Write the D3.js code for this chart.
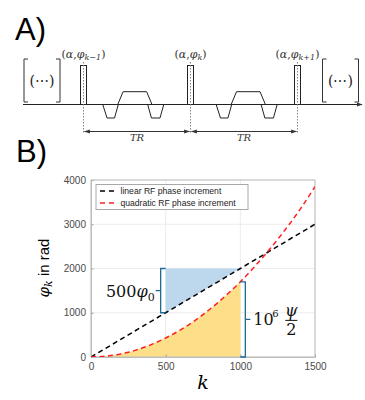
<!DOCTYPE html>
<html>
<head>
<meta charset="utf-8">
<script src="https://cdn.jsdelivr.net/npm/d3@7"></script>
<style>
  body { margin: 0; background: #fff; }
  svg { display: block; }
  .tick text { font-family: "Liberation Sans", Arial, sans-serif; font-size: 10px; fill: #4a4a4a; }
  .math { font-family: "DejaVu Serif", "Liberation Serif", serif; }
</style>
</head>
<body>
<div class="chart"></div>
<script>
// ---- data ----
const kLinear = [0, 250, 500, 750, 1000, 1250, 1500]
const phiLinear = [0, 500, 1000, 1500, 2000, 2500, 3000]

const kQuad = [0, 100, 200, 300, 400, 500, 600, 700, 800, 900, 1000, 1100, 1200, 1300, 1400, 1500]
const phiQuad = [0, 18, 70, 155, 275, 430, 615, 835, 1090, 1380, 1700, 2060, 2450, 2875, 3335, 3850]

const blueK = [500, 500, 1000]
const bluePhi = [1000, 2000, 2000]

const xTicks = [0, 500, 1000, 1500]
const yTicks = [0, 1000, 2000, 3000, 4000]

const legendLabels = ["linear RF phase increment", "quadratic RF phase increment"]
const legendColors = ["#000000", "#ff1f1f"]

// sequence diagram (panel A), in units of TR
const pulseTimes = [0, 1, 2]
const pulseSubs = ["k\u22121", "k", "k+1"]
const gradStart = [0.18, 0.24]

const svg = d3.select(".chart")
    .append("svg")
    .attr("width", 365)
    .attr("height", 400)

// ================= panel A =================
svg.append("text")
    .attr("x", 15).attr("y", 40)
    .style("font-family", "Liberation Sans, Arial, sans-serif")
    .style("font-size", "31px")
    .text("A)")

const t = d3.scaleLinear([0, 2], [83.5, 297.5])
const base = 104.5

const defs = svg.append("defs")
defs.append("marker")
    .attr("id", "arr")
    .attr("viewBox", "0 0 10 10")
    .attr("refX", 9).attr("refY", 5)
    .attr("markerWidth", 6).attr("markerHeight", 6)
    .attr("orient", "auto-start-reverse")
    .append("path")
    .attr("d", "M0,1.5 L10,5 L0,8.5 z")
    .attr("fill", "#333")

// baseline
svg.append("line")
    .attr("x1", 23).attr("x2", 362)
    .attr("y1", base).attr("y2", base)
    .attr("stroke", "#222").attr("stroke-width", 1)
    .attr("marker-end", "url(#arr)")

// bracket boxes with (...)
const brackets = [42, 340.5]
brackets.forEach(cx => {
    const g = svg.append("g").attr("fill", "none").attr("stroke", "#333").attr("stroke-width", 1)
    g.append("path").attr("d", `M${cx - 14},59 H${cx - 18} V102 H${cx - 14}`)
    g.append("path").attr("d", `M${cx + 14},59 H${cx + 18} V102 H${cx + 14}`)
    svg.append("text")
        .attr("class", "math")
        .attr("x", cx).attr("y", 86)
        .attr("text-anchor", "middle")
        .style("font-size", "14px")
        .style("fill", "#222")
        .text("(\u22EF)")
})

// gradients
gradStart.forEach((s, i) => {
    const g = svg.append("g").attr("fill", "none").attr("stroke", "#222").attr("stroke-width", 1)
    const tt = d => t(i + s + d)
    g.append("path").attr("d",
        `M${tt(0)},${base} L${tt(0.04)},${base + 13.5} L${tt(0.11)},${base + 13.5} L${tt(0.145)},${base}`)
    g.append("path").attr("d",
        `M${tt(0.14)},${base} L${tt(0.19)},${base - 12.8} L${tt(0.41)},${base - 12.8} L${tt(0.46)},${base}`)
    g.append("path").attr("d",
        `M${tt(0.42)},${base} L${tt(0.455)},${base + 13.5} L${tt(0.535)},${base + 13.5} L${tt(0.57)},${base}`)
})

// RF pulses
pulseTimes.forEach((p, i) => {
    const cx = t(p)
    svg.append("rect")
        .attr("x", cx - 3).attr("y", 65.5)
        .attr("width", 6).attr("height", base - 65.5)
        .attr("fill", "#fff").attr("stroke", "#222").attr("stroke-width", 1)
    svg.append("line")
        .attr("x1", cx).attr("x2", cx)
        .attr("y1", 62).attr("y2", 133)
        .attr("stroke", "#777").attr("stroke-width", 0.9)
        .attr("stroke-dasharray", "1.5,1.5")
    const lab = svg.append("text")
        .attr("class", "math")
        .attr("x", cx).attr("y", 57.5)
        .attr("text-anchor", "middle")
        .style("font-size", "11px")
        .style("fill", "#333")
    lab.append("tspan").text("(")
    lab.append("tspan").style("font-style", "italic").text("\u03B1")
    lab.append("tspan").text(",")
    lab.append("tspan").style("font-style", "italic").text("\u03C6")
    lab.append("tspan").attr("dy", 2.5).style("font-size", "8px").style("font-style", "italic").text(pulseSubs[i])
    lab.append("tspan").attr("dy", -2.5).text(")")
})

// TR arrows
d3.pairs(pulseTimes).forEach(([a, b]) => {
    svg.append("line")
        .attr("x1", t(a) + 1).attr("x2", t(b) - 1)
        .attr("y1", 131.5).attr("y2", 131.5)
        .attr("stroke", "#333").attr("stroke-width", 1)
        .attr("marker-start", "url(#arr)")
        .attr("marker-end", "url(#arr)")
    svg.append("text")
        .attr("class", "math")
        .attr("x", (t(a) + t(b)) / 2).attr("y", 141)
        .attr("text-anchor", "middle")
        .style("font-size", "10px")
        .style("font-style", "italic")
        .style("fill", "#333")
        .text("TR")
})

// ================= panel B =================
svg.append("text")
    .attr("x", 16).attr("y", 162)
    .style("font-family", "Liberation Sans, Arial, sans-serif")
    .style("font-size", "31px")
    .text("B)")

const x = d3.scaleLinear([0, 1500], [91, 315])
const y = d3.scaleLinear([0, 4000], [357, 180])

// grid
svg.append("g")
    .selectAll("line.gx")
    .data(xTicks)
    .join("line")
    .attr("x1", d => x(d)).attr("x2", d => x(d))
    .attr("y1", y(4000)).attr("y2", y(0))
    .attr("stroke", "#ececec").attr("stroke-width", 1)
svg.append("g")
    .selectAll("line.gy")
    .data(yTicks)
    .join("line")
    .attr("x1", x(0)).attr("x2", x(1500))
    .attr("y1", d => y(d)).attr("y2", d => y(d))
    .attr("stroke", "#ececec").attr("stroke-width", 1)

// filled regions
const quadPts = kQuad.map((k, i) => [k, phiQuad[i]])
svg.append("path")
    .datum(quadPts.filter(d => d[0] <= 1000))
    .attr("d", d3.area().x(d => x(d[0])).y0(y(0)).y1(d => y(d[1])).curve(d3.curveMonotoneX))
    .attr("fill", "#fddf8a")

svg.append("path")
    .datum(blueK.map((k, i) => [k, bluePhi[i]]))
    .attr("d", d3.line().x(d => x(d[0])).y(d => y(d[1])).curve(d3.curveLinearClosed))
    .attr("fill", "#bdd7ec")

// axes
svg.append("g")
    .attr("transform", `translate(0,${y(0)})`)
    .call(d3.axisBottom(x).tickValues(xTicks).tickSize(-2.5).tickPadding(6).tickFormat(d3.format("d")))
svg.append("g")
    .attr("transform", `translate(${x(0)},0)`)
    .call(d3.axisLeft(y).tickValues(yTicks).tickSize(-2.5).tickPadding(5).tickFormat(d3.format("d")))
svg.selectAll(".domain").attr("stroke", "#bdbdbd")
svg.selectAll(".tick line").attr("stroke", "#9a9a9a")

// box
svg.append("rect")
    .attr("x", x(0)).attr("y", y(4000))
    .attr("width", x(1500) - x(0)).attr("height", y(0) - y(4000))
    .attr("fill", "none").attr("stroke", "#bdbdbd").attr("stroke-width", 1)

// curves
const clip = defs.append("clipPath").attr("id", "plot")
clip.append("rect")
    .attr("x", x(0)).attr("y", y(4000))
    .attr("width", x(1500) - x(0)).attr("height", y(0) - y(4000))

const line = d3.line().x(d => x(d[0])).y(d => y(d[1]))
svg.append("path")
    .datum(kLinear.map((k, i) => [k, phiLinear[i]]))
    .attr("d", line)
    .attr("clip-path", "url(#plot)")
    .attr("fill", "none").attr("stroke", legendColors[0])
    .attr("stroke-width", 1.5).attr("stroke-dasharray", "5,3.5")
svg.append("path")
    .datum(quadPts)
    .attr("d", line.curve(d3.curveMonotoneX))
    .attr("clip-path", "url(#plot)")
    .attr("fill", "none").attr("stroke", legendColors[1])
    .attr("stroke-width", 1.5).attr("stroke-dasharray", "5,3.5")

// brackets
const bc = "#1f6a93"
const bx = x(500) - 5
svg.append("path")
    .attr("d", `M${bx + 5},${y(2000)} H${bx} V${y(1000)} H${bx + 5} M${bx},${(y(1000) + y(2000)) / 2} H${bx - 5}`)
    .attr("fill", "none").attr("stroke", bc).attr("stroke-width", 1.3)
const lab1 = svg.append("text")
    .attr("class", "math")
    .attr("x", bx - 6).attr("y", (y(1000) + y(2000)) / 2 + 6)
    .attr("text-anchor", "end")
    .style("font-size", "16px")
    .style("fill", "#111")
lab1.append("tspan").text("500")
lab1.append("tspan").style("font-style", "italic").text("\u03C6")
lab1.append("tspan").attr("dy", 4).style("font-size", "11px").text("0")

const yTop = phiQuad[kQuad.indexOf(1000)]
const rx = x(1000) + 5
svg.append("path")
    .attr("d", `M${rx - 5},${y(yTop)} H${rx} V${y(0)} H${rx - 5} M${rx},${(y(0) + y(yTop)) / 2} H${rx + 5}`)
    .attr("fill", "none").attr("stroke", bc).attr("stroke-width", 1.3)
const my = (y(0) + y(yTop)) / 2
svg.append("text")
    .attr("class", "math")
    .attr("x", rx + 8).attr("y", my + 6)
    .style("font-size", "16px")
    .style("fill", "#111")
    .text("10")
svg.append("text")
    .attr("class", "math")
    .attr("x", rx + 27).attr("y", my - 2)
    .style("font-size", "10px")
    .style("fill", "#111")
    .text("6")
svg.append("text")
    .attr("class", "math")
    .attr("x", rx + 46).attr("y", my - 3)
    .attr("text-anchor", "middle")
    .style("font-size", "16px")
    .style("font-style", "italic")
    .style("fill", "#111")
    .text("\u03C8")
svg.append("line")
    .attr("x1", rx + 40).attr("x2", rx + 52)
    .attr("y1", my + 1).attr("y2", my + 1)
    .attr("stroke", "#111").attr("stroke-width", 1)
svg.append("text")
    .attr("class", "math")
    .attr("x", rx + 46).attr("y", my + 16)
    .attr("text-anchor", "middle")
    .style("font-size", "16px")
    .style("fill", "#111")
    .text("2")

// legend
const lg = svg.append("g").attr("transform", "translate(96,184.5)")
lg.append("rect")
    .attr("width", 152).attr("height", 25)
    .attr("fill", "#fff").attr("stroke", "#a8a8a8").attr("stroke-width", 1)
legendLabels.forEach((l, i) => {
    lg.append("line")
        .attr("x1", 4).attr("x2", 20)
        .attr("y1", 6.5 + i * 12).attr("y2", 6.5 + i * 12)
        .attr("stroke", legendColors[i]).attr("stroke-width", 1.5)
        .attr("stroke-dasharray", "5,4")
    lg.append("text")
        .attr("x", 24.5).attr("y", 9.5 + i * 12)
        .style("font-family", "Liberation Sans, Arial, sans-serif")
        .style("font-size", "8.6px")
        .style("fill", "#222")
        .text(l)
})

// axis labels
svg.append("text")
    .attr("class", "math")
    .attr("x", x(750)).attr("y", 389)
    .attr("text-anchor", "middle")
    .style("font-size", "19px")
    .style("font-style", "italic")
    .text("k")

const yl = svg.append("text")
    .attr("transform", "translate(49,268) rotate(-90)")
    .attr("text-anchor", "middle")
    .style("font-size", "15px")
yl.append("tspan").attr("class", "math").style("font-style", "italic").text("\u03C6")
yl.append("tspan").attr("class", "math").attr("dy", 3).style("font-style", "italic").style("font-size", "11px").text("k")
yl.append("tspan").attr("dy", -3)
    .style("font-family", "Liberation Sans, Arial, sans-serif")
    .text(" in rad")
</script>
</body>
</html>
